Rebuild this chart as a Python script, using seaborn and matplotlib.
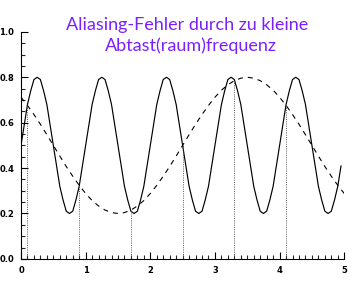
import numpy as np
import pandas as pd
import matplotlib
matplotlib.use("Agg")
import matplotlib.pyplot as plt
from matplotlib.ticker import MultipleLocator
import seaborn as sns

# Signal sampled every 0.05 (x = 0 .. 4.95)
signal_x = [round(0.05 * i, 2) for i in range(100)]
signal_period = [0.50, 0.59, 0.68, 0.74, 0.79, 0.80, 0.79, 0.74, 0.68, 0.59,
                 0.50, 0.41, 0.32, 0.26, 0.21, 0.20, 0.21, 0.26, 0.32, 0.41]
signal_y = signal_period * 5

# Aliased (reconstructed) signal every 0.1 (x = 0 .. 5.0)
alias_x = [round(0.1 * i, 1) for i in range(51)]
alias_y = [0.712, 0.676, 0.636, 0.593, 0.547, 0.500, 0.453, 0.407, 0.364, 0.324,
           0.288, 0.257, 0.233, 0.215, 0.204, 0.200, 0.204, 0.215, 0.233, 0.257,
           0.288, 0.324, 0.364, 0.407, 0.453, 0.500, 0.547, 0.593, 0.636, 0.676,
           0.712, 0.743, 0.767, 0.785, 0.796, 0.800, 0.796, 0.785, 0.767, 0.743,
           0.712, 0.676, 0.636, 0.593, 0.547, 0.500, 0.453, 0.407, 0.364, 0.324,
           0.288]

# Sample points
sample_x = [0.1, 0.9, 1.7, 2.5, 3.3, 4.1]
sample_y = [0.676, 0.324, 0.215, 0.500, 0.785, 0.676]

x_ticks = [0, 1, 2, 3, 4, 5]
y_ticks = [0.0, 0.2, 0.4, 0.6, 0.8, 1.0]
title_lines = ["Aliasing-Fehler durch zu kleine", "Abtast(raum)frequenz"]

sns.set_style("ticks")
plt.rcParams['font.family'] = ['DejaVu Sans']

fig = plt.figure(figsize=(3.56, 2.82), dpi=100)
ax = fig.add_axes([0.059, 0.082, 0.908, 0.805])

df_sig = pd.DataFrame({"x": signal_x, "y": signal_y})
df_alias = pd.DataFrame({"x": alias_x, "y": alias_y})

sns.lineplot(data=df_sig, x="x", y="y", ax=ax, color="black", lw=0.85)
sns.lineplot(data=df_alias, x="x", y="y", ax=ax, color="black", lw=0.8,
             linestyle=(0, (4.5, 4.5)))
ax.vlines(sample_x, 0, sample_y, colors="#444444", linestyles=(0, (1.2, 1.5)), lw=0.6)

ax.set_xlim(0, 5)
ax.set_ylim(0, 1.0)
ax.set_xticks(x_ticks)
ax.set_xticklabels([str(t) for t in x_ticks])
ax.set_yticks(y_ticks)
ax.set_yticklabels([f"{t:.1f}" for t in y_ticks])
ax.xaxis.set_minor_locator(MultipleLocator(0.1))
ax.yaxis.set_minor_locator(MultipleLocator(0.05))
ax.tick_params(which="major", direction="in", length=5, width=0.8, labelsize=6,
               pad=5, colors="black")
ax.tick_params(which="minor", direction="in", length=3, width=0.8)
for lab in ax.get_xticklabels() + ax.get_yticklabels():
    lab.set_fontweight("bold")
ax.set_xlabel("")
ax.set_ylabel("")
for s in ["top", "right"]:
    ax.spines[s].set_visible(False)
for s in ["left", "bottom"]:
    ax.spines[s].set_linewidth(0.8)
    ax.spines[s].set_color("black")

fig.text(0.525, 0.91, title_lines[0], ha="center", va="center",
         color="#7a1fff", fontsize=13, family=["Lato", "DejaVu Sans"])
fig.text(0.535, 0.837, title_lines[1], ha="center", va="center",
         color="#7a1fff", fontsize=13, family=["Lato", "DejaVu Sans"])

fig.savefig("out.png", dpi=100)
